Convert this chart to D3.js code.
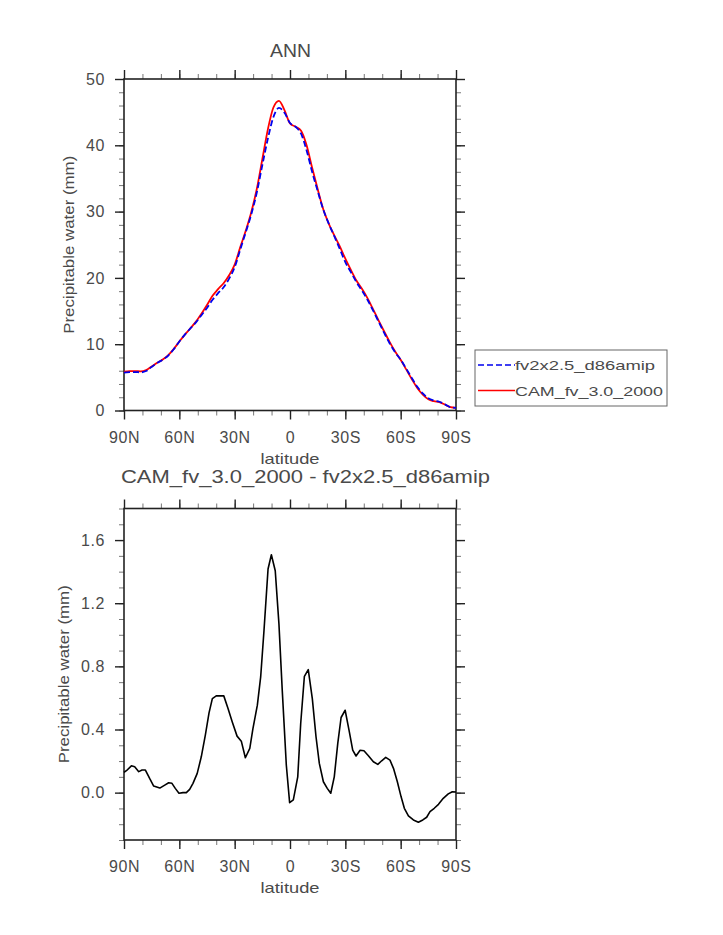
<!DOCTYPE html>
<html>
<head>
<meta charset="utf-8">
<script src="https://cdn.jsdelivr.net/npm/d3@7"></script>
<style>
  html, body { margin: 0; padding: 0; background: #fff; }
  svg { display: block; }
  text { font-family: "Liberation Sans", "DejaVu Sans", sans-serif; fill: #4a4a4a; }
</style>
</head>
<body>
<svg id="chart" width="723" height="935"></svg>
<script>
// ---------- data ----------
const topTitle = "ANN";
const diffTitle = "CAM_fv_3.0_2000 - fv2x2.5_d86amip";
const xLabel = "latitude";
const yLabel = "Precipitable water (mm)";
const seriesNames = ["fv2x2.5_d86amip", "CAM_fv_3.0_2000"];

const latTicks = [90, 60, 30, 0, -30, -60, -90];
const latTickLabels = ["90N", "60N", "30N", "0", "30S", "60S", "90S"];
const topYTicks = [0, 10, 20, 30, 40, 50];
const topYTickLabels = ["0", "10", "20", "30", "40", "50"];
const diffYTicks = [0, 0.4, 0.8, 1.2, 1.6];
const diffYTickLabels = ["0.0", "0.4", "0.8", "1.2", "1.6"];

const lat = [90, 87, 84, 81, 78, 75, 72, 69, 66, 63, 60, 57, 54, 51, 48, 45, 42, 39, 36, 33,
             30, 27, 24, 21, 18, 15, 12, 9, 6, 3, 0, -3, -6, -9, -12, -15, -18, -21, -24, -27,
             -30, -33, -36, -39, -42, -45, -48, -51, -54, -57, -60, -63, -66, -69, -72, -75, -78, -81, -84, -87, -90];
const camValues = [5.85, 5.95, 5.95, 5.9, 6.1, 6.65, 7.2, 7.7, 8.35, 9.3, 10.4, 11.45, 12.4, 13.4, 14.6, 15.9, 17.3, 18.3, 19.2, 20.4,
                   22.0, 24.6, 27.1, 29.9, 33.4, 37.9, 42.4, 45.7, 46.7, 45.3, 43.3, 42.8, 42.2, 40.0, 36.6, 33.4, 30.4, 28.2, 26.4, 24.75,
                   22.9, 21.2, 19.6, 18.35, 16.95, 15.3, 13.6, 11.95, 10.35, 8.9, 7.65, 6.2, 4.75, 3.4, 2.4, 1.7, 1.4, 1.25, 0.9, 0.5, 0.4];
const fvValues = [5.72, 5.79, 5.79, 5.76, 5.96, 6.58, 7.17, 7.67, 8.29, 9.26, 10.4, 11.45, 12.38, 13.3, 14.37, 15.47, 16.7, 17.69, 18.59, 19.89,
                  21.6, 24.25, 26.88, 29.57, 32.87, 37.02, 41.0, 44.25, 45.63, 44.9, 43.36, 42.8, 41.75, 39.23, 36.0, 33.1, 30.33, 28.18, 26.3, 24.35,
                  22.38, 20.87, 19.37, 18.08, 16.71, 15.1, 13.42, 11.74, 10.14, 8.78, 7.67, 6.32, 4.92, 3.59, 2.57, 1.84, 1.5, 1.32, 0.93, 0.5, 0.4];

const diffLat = [90, 88.7, 86, 84.2, 82, 80.2, 78.4, 76.1, 73.9, 70.6, 67.9, 65.8, 64, 62.2, 60.2, 58, 56.2, 54.4, 52.6, 50.3,
                 48.1, 45.9, 43.9, 42.1, 40, 35.9, 33.6, 31.3, 28.7, 26.4, 24.2, 21.8, 20.1, 17.7, 15.9, 14.1, 11.9, 10.1, 8.0, 6.0,
                 4.2, 2.0, 0.2, -1.8, -4.2, -5.8, -7.8, -9.9, -12.1, -14.1, -15.9, -18.1, -20.2, -22.1, -24, -25.9, -27.7, -29.9, -32, -34,
                 -35.8, -38, -40.1, -42.5, -45.2, -47.6, -49.7, -51.9, -54.2, -56.1, -58.2, -60.2, -62, -64.2, -66.9, -69.6, -72, -74.1, -75.9, -78.2,
                 -80.5, -83.1, -85.8, -88, -90];
const diffValues = [0.128, 0.139, 0.17, 0.164, 0.133, 0.143, 0.143, 0.09, 0.042, 0.029, 0.048, 0.063, 0.059, 0.027, -0.004, 0.0, 0.0, 0.021, 0.059, 0.122,
                    0.227, 0.364, 0.505, 0.596, 0.613, 0.613, 0.533, 0.448, 0.358, 0.326, 0.221, 0.28, 0.406, 0.554, 0.733, 1.027, 1.417, 1.507, 1.406, 1.069,
                    0.648, 0.175, -0.063, -0.046, 0.1, 0.438, 0.737, 0.779, 0.596, 0.354, 0.185, 0.069, 0.027, -0.004, 0.1, 0.312, 0.476, 0.522, 0.396, 0.269,
                    0.232, 0.269, 0.265, 0.234, 0.196, 0.179, 0.202, 0.223, 0.206, 0.154, 0.069, -0.025, -0.099, -0.147, -0.173, -0.187, -0.173, -0.156, -0.12, -0.099,
                    -0.074, -0.036, -0.008, 0.006, 0.004];

// ---------- layout ----------
const svg = d3.select("#chart");
const L = 124, R = 456;
const top1 = 79, bot1 = 410.5;
const top2 = 508.5, bot2 = 840;
const MAJ = 9, MIN = 5;
const TXT = "#4a4a4a";

const x = d3.scaleLinear().domain([90, -90]).range([L, R]);
const y1 = d3.scaleLinear().domain([0, 50]).range([bot1, top1]);
const y2 = d3.scaleLinear().domain([-0.3, 1.8]).range([bot2, top2]);

function drawFrame(yScale, yTop, yBot, yTicks, yTickLabels, yMinor) {
  const g = svg.append("g");
  const styleAxis = (sel, minor) => {
    sel.select(".domain").remove();
    sel.selectAll(".tick line").attr("stroke", minor ? "#777" : "#222").attr("stroke-width", minor ? 1 : 1.4);
  };
  const lab = (arr, ticks) => d => arr[ticks.findIndex(t => Math.abs(t - d) < 1e-9)];
  const xMinor = d3.range(90, -91, -10);
  g.append("g").attr("transform", `translate(0,${yBot})`)
    .call(d3.axisBottom(x).tickValues(xMinor).tickSize(MIN).tickFormat("")).call(s => styleAxis(s, true));
  g.append("g").attr("transform", `translate(0,${yTop})`)
    .call(d3.axisTop(x).tickValues(xMinor).tickSize(MIN).tickFormat("")).call(s => styleAxis(s, true));
  g.append("g").attr("transform", `translate(${L},0)`)
    .call(d3.axisLeft(yScale).tickValues(yMinor).tickSize(MIN).tickFormat("")).call(s => styleAxis(s, true));
  g.append("g").attr("transform", `translate(${R},0)`)
    .call(d3.axisRight(yScale).tickValues(yMinor).tickSize(MIN).tickFormat("")).call(s => styleAxis(s, true));
  const xb = g.append("g").attr("transform", `translate(0,${yBot})`)
    .call(d3.axisBottom(x).tickValues(latTicks).tickSize(MAJ).tickPadding(12).tickFormat(lab(latTickLabels, latTicks)))
    .call(s => styleAxis(s, false));
  xb.selectAll("text").attr("font-size", 16).attr("fill", TXT).attr("letter-spacing", 0.6)
    .style("font-family", "'Liberation Sans', sans-serif");
  g.append("g").attr("transform", `translate(0,${yTop})`)
    .call(d3.axisTop(x).tickValues(latTicks).tickSize(MAJ).tickFormat("")).call(s => styleAxis(s, false));
  const yl = g.append("g").attr("transform", `translate(${L},0)`)
    .call(d3.axisLeft(yScale).tickValues(yTicks).tickSize(MAJ).tickPadding(10).tickFormat(lab(yTickLabels, yTicks)))
    .call(s => styleAxis(s, false));
  yl.selectAll("text").attr("font-size", 16).attr("fill", TXT).attr("letter-spacing", 0.6)
    .style("font-family", "'Liberation Sans', sans-serif");
  g.append("g").attr("transform", `translate(${R},0)`)
    .call(d3.axisRight(yScale).tickValues(yTicks).tickSize(MAJ).tickFormat("")).call(s => styleAxis(s, false));
  g.append("rect").attr("x", L).attr("y", yTop).attr("width", R - L).attr("height", yBot - yTop)
    .attr("fill", "none").attr("stroke", "#222").attr("stroke-width", 1.6);
}

// ---------- top panel ----------
drawFrame(y1, top1, bot1, topYTicks, topYTickLabels, d3.range(0, 51, 2));

const lineTop = d3.line().x((d, i) => x(lat[i])).y(d => y1(d)).curve(d3.curveMonotoneX);
svg.append("path").datum(camValues).attr("d", lineTop)
  .attr("fill", "none").attr("stroke", "#ff0000").attr("stroke-width", 1.8);
svg.append("path").datum(fvValues).attr("d", lineTop)
  .attr("fill", "none").attr("stroke", "#0000ee").attr("stroke-width", 1.8).attr("stroke-dasharray", "6,3");

svg.append("text").attr("x", 290.5).attr("y", 57).attr("text-anchor", "middle")
  .attr("font-size", 19).attr("textLength", 41).attr("lengthAdjust", "spacingAndGlyphs").text(topTitle);
svg.append("text").attr("x", 290).attr("y", 464).attr("text-anchor", "middle")
  .attr("font-size", 15).attr("textLength", 59).attr("lengthAdjust", "spacingAndGlyphs").text(xLabel);
svg.append("text").attr("transform", `translate(74,${(top1 + bot1) / 2}) rotate(-90)`).attr("text-anchor", "middle")
  .attr("font-size", 15).attr("textLength", 178).attr("lengthAdjust", "spacingAndGlyphs").text(yLabel);

// legend
const lg = svg.append("g");
lg.append("rect").attr("x", 475).attr("y", 350).attr("width", 192).attr("height", 56)
  .attr("fill", "none").attr("stroke", "#666").attr("stroke-width", 1);
lg.append("line").attr("x1", 478).attr("x2", 515).attr("y1", 365).attr("y2", 365)
  .attr("stroke", "#0000ee").attr("stroke-width", 1.6).attr("stroke-dasharray", "6,3");
lg.append("line").attr("x1", 478).attr("x2", 515).attr("y1", 390.5).attr("y2", 390.5)
  .attr("stroke", "#ff0000").attr("stroke-width", 1.6);
lg.append("text").attr("x", 515).attr("y", 369.5).attr("font-size", 13)
  .attr("textLength", 140).attr("lengthAdjust", "spacingAndGlyphs").text(seriesNames[0]);
lg.append("text").attr("x", 515).attr("y", 395.5).attr("font-size", 13)
  .attr("textLength", 148).attr("lengthAdjust", "spacingAndGlyphs").text(seriesNames[1]);

// ---------- bottom panel ----------
drawFrame(y2, top2, bot2, diffYTicks, diffYTickLabels, d3.range(-3, 19).map(d => d / 10));

const lineDiff = d3.line().x((d, i) => x(diffLat[i])).y(d => y2(d));
svg.append("path").datum(diffValues).attr("d", lineDiff)
  .attr("fill", "none").attr("stroke", "#000").attr("stroke-width", 1.6).attr("stroke-linejoin", "round");

svg.append("text").attr("x", 121).attr("y", 483).attr("font-size", 18)
  .attr("textLength", 369).attr("lengthAdjust", "spacingAndGlyphs").text(diffTitle);
svg.append("text").attr("x", 290).attr("y", 893).attr("text-anchor", "middle")
  .attr("font-size", 15).attr("textLength", 59).attr("lengthAdjust", "spacingAndGlyphs").text(xLabel);
svg.append("text").attr("transform", `translate(68.5,${(top2 + bot2) / 2}) rotate(-90)`).attr("text-anchor", "middle")
  .attr("font-size", 15).attr("textLength", 178).attr("lengthAdjust", "spacingAndGlyphs").text(yLabel);
</script>
</body>
</html>
